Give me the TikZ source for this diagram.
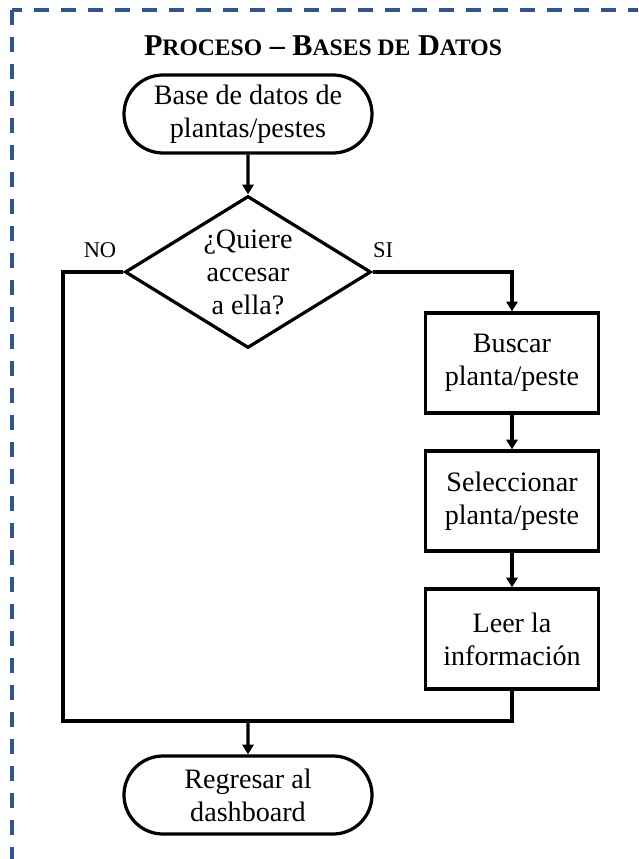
\documentclass[tikz,border=0pt]{standalone}
\usepackage{fontspec}
\setmainfont{Liberation Serif}
\usetikzlibrary{shapes.geometric}
\usetikzlibrary{shapes.misc}
\usetikzlibrary{arrows.meta}
\definecolor{frameblue}{RGB}{47,84,150}

% one unit of the layout grid
\def\u{0.025cm}

\tikzset{
  terminal/.style={draw, rounded rectangle, line width=2.3pt, align=center,
    minimum width=248*\u, minimum height=78*\u, inner sep=0pt},
  process/.style={draw, rectangle, line width=2.3pt, align=center,
    minimum width=173*\u, minimum height=100*\u, inner sep=0pt},
  decision/.style={draw, diamond, line width=2.3pt, align=center,
    minimum width=246*\u, minimum height=152*\u, inner sep=0pt, aspect=1.62},
  flow/.style={line width=2.3pt, -{Triangle[length=7pt,width=8pt]}},
  plain/.style={line width=2.3pt},
  answer/.style={font=\fontsize{16}{19}\selectfont},
}

\begin{document}
\begin{tikzpicture}[x=\u, y=-\u, font=\fontsize{20}{23.5}\selectfont]

%---------------------------------------
% Page and dashed frame
%---------------------------------------
\fill[white] (0,0) rectangle (638,859);
\clip (0,0) rectangle (638,859);
\draw[frameblue, line width=2.5pt, dash pattern=on 15*\u off 12*\u]
  (12,10) rectangle (700,920);

% Title in small capitals
\node (title) at (323,46) {\bfseries\fontsize{21.5}{25}\selectfont
  P{\fontsize{16.8}{20}\selectfont ROCESO} --
  B{\fontsize{16.8}{20}\selectfont ASES DE} D{\fontsize{16.8}{20}\selectfont ATOS}};

%---------------------------------------
% Nodes
%---------------------------------------
\node[terminal] (start) at (248,114) {Base de datos de\\plantas/pestes};
\node[decision] (ask) at (248,272) {¿Quiere\\accesar\\a ella?};

\node[process] (search) at (512,363) {Buscar\\planta/peste};
\node[process] (select) at (512,501) {Seleccionar\\planta/peste};
\node[process] (read)   at (512,639) {Leer la\\información};

\node[terminal] (back) at (248,795) {Regresar al\\dashboard};

\node[answer] (no) at (100,250) {NO};
\node[answer] (yes) at (383,250) {SI};

\coordinate (noside) at (63,721);
\coordinate (merge) at (248,721);

%---------------------------------------
% Connectors
%---------------------------------------
\draw[flow] (start) -- (ask);
\draw[flow] (ask.east) -| (search);
\draw[flow] (search) -- (select);
\draw[flow] (select) -- (read);

% NO branch and merge back
\draw[plain] (ask.west) -| (noside) -| (read.south);
\draw[flow] (merge) -- (back);

\end{tikzpicture}
\end{document}
